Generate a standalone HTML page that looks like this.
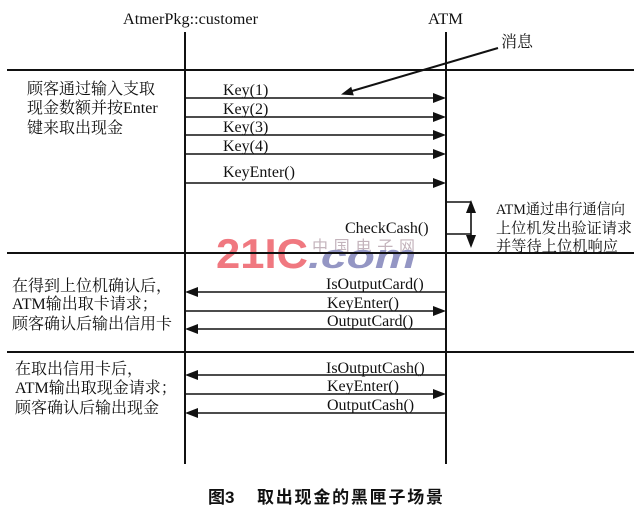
<!DOCTYPE html>
<html>
<head>
<meta charset="utf-8">
<style>
html,body{margin:0;padding:0;background:#fff;}
svg{display:block;}
.lat{font-family:"Liberation Serif","Noto Serif CJK SC",serif;font-size:16px;fill:#111;}
.cn{font-family:"Liberation Serif","Noto Serif CJK SC",serif;font-size:16px;fill:#111;}
.cn15{font-family:"Liberation Serif","Noto Serif CJK SC",serif;font-size:15px;fill:#111;}
.cap{font-family:"Liberation Sans","Noto Sans CJK SC",sans-serif;font-size:17px;font-weight:700;fill:#111;}
</style>
</head>
<body>
<svg width="640" height="508" viewBox="0 0 640 508" xmlns="http://www.w3.org/2000/svg">
<rect width="640" height="508" fill="#fff"/>

<!-- watermark -->
<text x="216" y="268" font-family="Liberation Sans, sans-serif" font-weight="700" font-size="42" fill="#f07880" textLength="92" lengthAdjust="spacingAndGlyphs">21IC</text>
<text x="312" y="252" font-family="Liberation Sans, Noto Sans CJK SC, sans-serif" font-size="16" fill="#c4b4bc" textLength="103" lengthAdjust="spacing">中国电子网</text>
<text x="308" y="268" font-family="Liberation Sans, sans-serif" font-weight="700" font-style="italic" font-size="34" fill="#9496c4" textLength="108" lengthAdjust="spacingAndGlyphs">.com</text>

<!-- headers -->
<text class="lat" x="123" y="24" textLength="135" lengthAdjust="spacingAndGlyphs">AtmerPkg::customer</text>
<text class="lat" x="428" y="24" textLength="35" lengthAdjust="spacingAndGlyphs">ATM</text>
<text class="cn" x="501" y="47">消息</text>

<!-- lifelines -->
<line x1="185" y1="32" x2="185" y2="464" stroke="#111" stroke-width="2"/>
<line x1="446" y1="32" x2="446" y2="464" stroke="#111" stroke-width="2"/>

<!-- separators -->
<line x1="7" y1="70" x2="634" y2="70" stroke="#111" stroke-width="2"/>
<line x1="7" y1="253" x2="634" y2="253" stroke="#111" stroke-width="2"/>
<line x1="7" y1="352" x2="634" y2="352" stroke="#111" stroke-width="2"/>

<!-- message pointer -->
<line x1="498" y1="48" x2="352" y2="91" stroke="#111" stroke-width="2"/>
<polygon points="341,94.5 353.8,95.4 351.2,86.8" fill="#111"/>

<!-- right arrows section 1 -->
<g stroke="#111" stroke-width="1.6">
<line x1="186" y1="98" x2="436" y2="98"/>
<line x1="186" y1="117" x2="436" y2="117"/>
<line x1="186" y1="135" x2="436" y2="135"/>
<line x1="186" y1="154" x2="436" y2="154"/>
<line x1="186" y1="183" x2="436" y2="183"/>
<line x1="186" y1="311" x2="436" y2="311"/>
<line x1="186" y1="394" x2="436" y2="394"/>
<line x1="445" y1="292" x2="195" y2="292"/>
<line x1="445" y1="329" x2="195" y2="329"/>
<line x1="445" y1="375" x2="195" y2="375"/>
<line x1="445" y1="413" x2="195" y2="413"/>
</g>
<g fill="#111">
<polygon points="446,98 433,93 433,103"/>
<polygon points="446,117 433,112 433,122"/>
<polygon points="446,135 433,130 433,140"/>
<polygon points="446,154 433,149 433,159"/>
<polygon points="446,183 433,178 433,188"/>
<polygon points="446,311 433,306 433,316"/>
<polygon points="446,394 433,389 433,399"/>
<polygon points="185,292 198,287 198,297"/>
<polygon points="185,329 198,324 198,334"/>
<polygon points="185,375 198,370 198,380"/>
<polygon points="185,413 198,408 198,418"/>
</g>

<!-- self call -->
<g stroke="#111" stroke-width="1.6">
<line x1="446" y1="202" x2="471" y2="202"/>
<line x1="446" y1="234" x2="471" y2="234"/>
<line x1="471" y1="210" x2="471" y2="238"/>
</g>
<polygon points="471,200 466,213 476,213" fill="#111"/>
<polygon points="471,248 466,235 476,235" fill="#111"/>

<!-- labels -->
<text class="lat" x="223" y="95">Key(1)</text>
<text class="lat" x="223" y="114">Key(2)</text>
<text class="lat" x="223" y="132">Key(3)</text>
<text class="lat" x="223" y="151">Key(4)</text>
<text class="lat" x="223" y="177">KeyEnter()</text>
<text class="lat" x="345" y="233">CheckCash()</text>
<text class="lat" x="326" y="289">IsOutputCard()</text>
<text class="lat" x="327" y="308">KeyEnter()</text>
<text class="lat" x="327" y="326">OutputCard()</text>
<text class="lat" x="326" y="373">IsOutputCash()</text>
<text class="lat" x="327" y="391">KeyEnter()</text>
<text class="lat" x="327" y="410">OutputCash()</text>

<!-- left descriptions -->
<text class="cn" x="27" y="94">顾客通过输入支取</text>
<text class="cn" x="27" y="113">现金数额并按Enter</text>
<text class="cn" x="27" y="133">键来取出现金</text>

<text class="cn" x="12" y="291">在得到上位机确认后，</text>
<text class="cn" x="12" y="309">ATM输出取卡请求；</text>
<text class="cn" x="12" y="329">顾客确认后输出信用卡</text>

<text class="cn" x="15" y="374">在取出信用卡后，</text>
<text class="cn" x="15" y="393">ATM输出取现金请求；</text>
<text class="cn" x="15" y="413">顾客确认后输出现金</text>

<!-- right annotation -->
<text class="cn15" x="496" y="214" textLength="129" lengthAdjust="spacingAndGlyphs">ATM通过串行通信向</text>
<text class="cn15" x="496" y="233" textLength="136" lengthAdjust="spacingAndGlyphs">上位机发出验证请求</text>
<text class="cn15" x="496" y="251" textLength="122" lengthAdjust="spacingAndGlyphs">并等待上位机响应</text>

<!-- caption -->
<text class="cap" x="208" y="503">图3</text>
<text class="cap" x="257" y="503" textLength="186" lengthAdjust="spacing">取出现金的黑匣子场景</text>
</svg>
</body>
</html>
